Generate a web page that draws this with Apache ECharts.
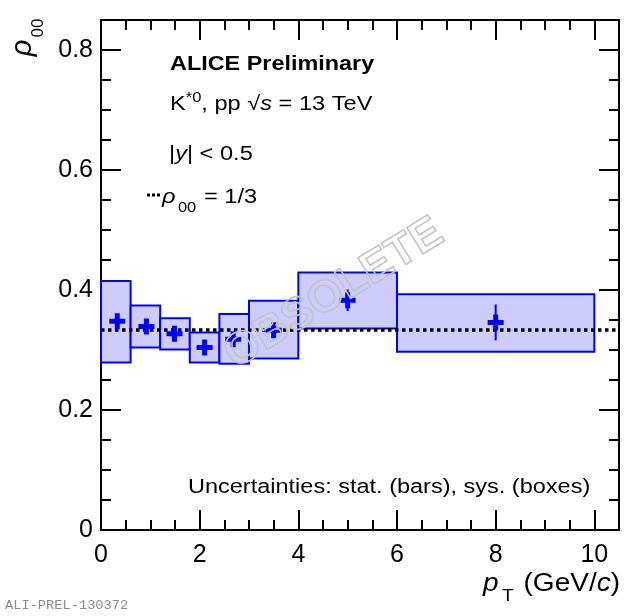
<!DOCTYPE html>
<html><head><meta charset="utf-8">
<script src="https://cdn.jsdelivr.net/npm/echarts@6/dist/echarts.min.js"></script>
<style>html,body{margin:0;padding:0;background:#fff}#c{width:641px;height:616px}</style>
</head><body><div id="c"></div>
<script>
// ---- data ----
const ptLow    = [0.0, 0.6, 1.2, 1.8, 2.4, 3.0, 4.0, 6.0];
const ptHigh   = [0.6, 1.2, 1.8, 2.4, 3.0, 4.0, 6.0, 10.0];
const ptCenter = [0.33, 0.92, 1.49, 2.10, 2.68, 3.50, 5.00, 8.00];
const rho00    = [0.348, 0.339, 0.327, 0.304, 0.318, 0.333, 0.383, 0.346];
const statErr  = [0.010, 0.009, 0.010, 0.012, 0.012, 0.012, 0.018, 0.030];
const sysLow   = [0.279, 0.304, 0.301, 0.279, 0.277, 0.286, 0.336, 0.297];
const sysHigh  = [0.415, 0.374, 0.353, 0.329, 0.360, 0.382, 0.429, 0.393];
const refValue = 1 / 3;
const xTickLabels = [0, 2, 4, 6, 8, 10];
const yTickLabels = [0, 0.2, 0.4, 0.6, 0.8];

const FONT = "'Liberation Sans', Arial, Helvetica, sans-serif";
const BLUE = '#0000ff';

function fmtX(v) {
  for (const t of xTickLabels) if (Math.abs(t - v) < 1e-9) return String(t);
  return '';
}
function fmtY(v) {
  for (const t of yTickLabels) if (Math.abs(t - v) < 1e-9) return t === 0 ? '0' : t.toFixed(1);
  return '';
}
const lineStyle = { color: '#000', width: 2 };
function xAx(pos, interval, major, labels) {
  return {
    type: 'value', position: pos, min: 0, max: 10.5, interval: interval,
    axisLine: { show: major, onZero: false, lineStyle: lineStyle },
    axisTick: { show: true, inside: true, length: major ? 20 : 10, lineStyle: lineStyle },
    axisLabel: labels ? { show: true, margin: 13, fontSize: 25, fontFamily: FONT, color: '#000', formatter: fmtX } : { show: false },
    splitLine: { show: false }, minorTick: { show: false }
  };
}
function yAx(pos, interval, major, labels) {
  return {
    type: 'value', position: pos, min: 0, max: 0.85, interval: interval,
    axisLine: { show: major, onZero: false, lineStyle: lineStyle },
    axisTick: { show: true, inside: true, length: major ? 20 : 10, lineStyle: lineStyle },
    axisLabel: labels ? { show: true, margin: 8, fontSize: 25, fontFamily: FONT, color: '#000', formatter: fmtY } : { show: false },
    splitLine: { show: false }, minorTick: { show: false }
  };
}

const sysData = ptLow.map((l, i) => [l, ptHigh[i], sysLow[i], sysHigh[i]]);
const statData = ptCenter.map((x, i) => [x, rho00[i] - statErr[i], rho00[i] + statErr[i]]);
const pointData = ptCenter.map((x, i) => [x, rho00[i]]);
const refData = [[0, refValue], [10.5, refValue]];

const chart = echarts.init(document.getElementById('c'), null, { renderer: 'canvas' });
const txt = (x, y, text, extra, styleExtra) => Object.assign({
  type: 'text', x: x, y: y, z: 50,
  style: Object.assign({ text: text, fill: '#000', fontSize: 20, fontFamily: FONT, align: 'left', verticalAlign: 'middle' }, styleExtra || {})
}, extra || {});
const rich = {
  n: { fontSize: 20, fontFamily: FONT, fill: '#000' },
  it: { fontSize: 20, fontFamily: FONT, fontStyle: 'italic', fill: '#000' },
  sup: { fontSize: 14, fontFamily: FONT, fill: '#000', padding: [0, 0, 12, 0] },
  sub: { fontSize: 14, fontFamily: FONT, fill: '#000', padding: [22, 1, 0, 2] }
};
const richT = {
  n: { fontSize: 25, fontFamily: FONT, fill: '#000' },
  it: { fontSize: 25, fontFamily: FONT, fontStyle: 'italic', fill: '#000' },
  sub: { fontSize: 17, fontFamily: FONT, fill: '#000', padding: [24, 2, 0, 3] }
};

chart.setOption({
  animation: false,
  backgroundColor: '#fff',
  grid: { left: 101, top: 20, right: 22, bottom: 86, containLabel: false, outerBoundsMode: 'none' },
  xAxis: [xAx('bottom', 2, true, true), xAx('bottom', 0.5, false, false), xAx('top', 2, true, false), xAx('top', 0.5, false, false)],
  yAxis: [yAx('left', 0.2, true, true), yAx('left', 0.05, false, false), yAx('right', 0.2, true, false), yAx('right', 0.05, false, false)],
  series: [
    {
      type: 'custom', name: 'sys', xAxisIndex: 0, yAxisIndex: 0, z: 2, silent: true,
      encode: { x: [0, 1], y: [2, 3] }, data: sysData,
      renderItem: function (params, api) {
        const a = api.coord([api.value(0), api.value(3)]);
        const b = api.coord([api.value(1), api.value(2)]);
        return { type: 'rect', shape: { x: a[0], y: a[1], width: b[0] - a[0], height: b[1] - a[1] },
                 style: { fill: '#ccccff', stroke: BLUE, lineWidth: 2 } };
      }
    },
    {
      type: 'line', name: 'ref', xAxisIndex: 0, yAxisIndex: 0, z: 3, silent: true,
      data: refData, symbol: 'none', showSymbol: false,
      lineStyle: { color: '#000', width: 3.5, type: [3.5, 3.5] }
    },
    {
      type: 'custom', name: 'stat', xAxisIndex: 0, yAxisIndex: 0, z: 4, silent: true,
      encode: { x: 0, y: [1, 2] }, data: statData,
      renderItem: function (params, api) {
        const a = api.coord([api.value(0), api.value(1)]);
        const b = api.coord([api.value(0), api.value(2)]);
        return { type: 'line', shape: { x1: a[0], y1: a[1], x2: b[0], y2: b[1] },
                 style: { stroke: BLUE, lineWidth: 2 } };
      }
    },
    {
      type: 'scatter', name: 'rho00', xAxisIndex: 0, yAxisIndex: 0, z: 5, silent: true,
      data: pointData,
      symbol: 'path://M5.5,0H10.5V5.5H16V10.5H10.5V16H5.5V10.5H0V5.5H5.5Z',
      symbolSize: 16, itemStyle: { color: BLUE, opacity: 1 }
    }
  ],
  graphic: { elements: [
    txt(170, 64, 'ALICE Preliminary', { scaleX: 1.17 }, { fontWeight: 'bold' }),
    txt(170, 104, '{n|K}{sup|*0}{n|, pp }{n|\u221A}{it|s}{n| = 13 TeV}', { scaleX: 1.18 }, { rich: rich }),
    txt(169, 154, '{n||}{it|y}{n|| < 0.5}', { scaleX: 1.18 }, { rich: rich }),
    { type: 'line', z: 50, shape: { x1: 147, y1: 195, x2: 160, y2: 195 }, style: { stroke: '#000', lineWidth: 3, lineDash: [3, 2] } },
    txt(162, 197.5, '{it|\u03C1}{sub|00}{n| = 1/3}', { scaleX: 1.18 }, { rich: rich }),
    txt(188, 487, 'Uncertainties: stat. (bars), sys. (boxes)', { scaleX: 1.175 }),
    txt(620, 584, '{it|p}{sub|T}{n| (GeV/}{it|c}{n|)}', { scaleX: 1.12 }, { rich: richT, align: 'right' }),
    txt(23, 48, '\u03C1', { rotation: Math.PI / 2 }, { fontSize: 29, fontStyle: 'italic', align: 'center' }),
    txt(38, 28, '00', { rotation: Math.PI / 2 }, { fontSize: 17, align: 'center' }),
    txt(5, 605, 'ALI-PREL-130372', {}, { fontSize: 13.7, fontFamily: "'Liberation Mono', 'DejaVu Sans Mono', monospace", fill: '#8c8c8c' }),
    { type: 'text', x: 334, y: 294, rotation: 0.55, z: 60,
      style: { text: 'OBSOLETE', fontSize: 45, fontWeight: 'bold', fontFamily: FONT,
               fill: 'rgba(255,255,255,0)', stroke: '#c4c4c4', lineWidth: 1.6, align: 'center', verticalAlign: 'middle' } }
  ] }
});
</script>
</body></html>
